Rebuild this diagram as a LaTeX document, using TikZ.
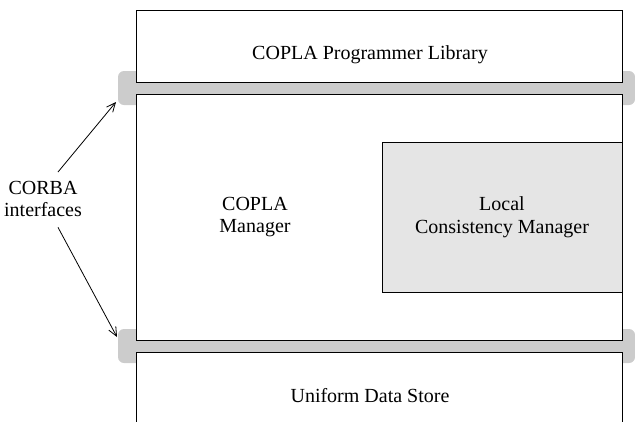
\documentclass[tikz,border=0pt]{standalone}
\usepackage{fontspec}
\setmainfont{Liberation Serif}
\usetikzlibrary{arrows.meta}
\begin{document}
\begin{tikzpicture}[x=1pt,y=-1pt,
  box/.style={draw=black, line width=0.9pt, fill=white, inner sep=0pt, anchor=north west},
  bar/.style={fill=gray!40, rounded corners=6pt},
  lbl/.style={font=\fontsize{20}{22.5}\selectfont, align=center, inner sep=0pt},
  arr/.style={-{Straight Barb[length=9pt,width=8pt]}, line width=0.8pt}]
\useasboundingbox (0,0) rectangle (635,421);
% CORBA interface bars
\fill[bar] (118,71) rectangle (635,105);
\fill[bar] (118,329) rectangle (635,363);
% layers
\node[box, minimum width=486pt, minimum height=72pt] (lib) at (136,10) {};
\node[box, minimum width=486pt, minimum height=246pt] (mgr) at (136,94) {};
\node[box, minimum width=486pt, minimum height=90pt] (uds) at (136,352) {};
\node[box, fill=gray!20, minimum width=240pt, minimum height=150pt] (lcm) at (382,142) {};
% labels
\node[lbl, anchor=base] (libtxt) at (370,59) {COPLA Programmer Library};
\node[lbl, anchor=north] (mgrtxt) at (255,197) {COPLA\\Manager};
\node[lbl, anchor=north] (lcmtxt) at (502,196.5) {Local\\Consistency Manager};
\node[lbl, anchor=base] (udstxt) at (370,402) {Uniform Data Store};
\node[lbl, anchor=north] (corba) at (43,181) {CORBA\\interfaces};
% arrows
\coordinate (t1) at (116,102);
\coordinate (t2) at (117,337);
\draw[arr] ([xshift=15pt,yshift=9pt]corba.north) -- (t1);
\draw[arr] ([xshift=15pt,yshift=-10pt]corba.south) -- (t2);
\end{tikzpicture}
\end{document}
